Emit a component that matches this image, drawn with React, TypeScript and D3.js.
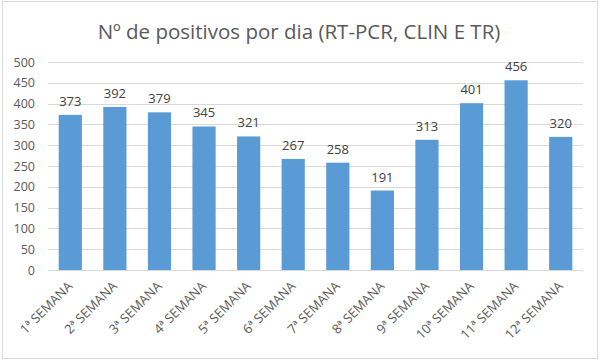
import React from "react";
import * as d3 from "d3";

const categories = ["1ª SEMANA","2ª SEMANA","3ª SEMANA","4ª SEMANA","5ª SEMANA","6ª SEMANA","7ª SEMANA","8ª SEMANA","9ª SEMANA","10ª SEMANA","11ª SEMANA","12ª SEMANA"];
const values = [373, 392, 379, 345, 321, 267, 258, 191, 313, 401, 456, 320];
const yTicks = [0, 50, 100, 150, 200, 250, 300, 350, 400, 450, 500];
const title = "Nº de positivos por dia (RT-PCR, CLIN E TR)";

const W = 600, H = 361;
const font = "'Open Sans', 'Liberation Sans', sans-serif";

export default function App() {
  const x = d3.scaleBand<string>().domain(categories).range([48, 583]).paddingInner(0.48).paddingOuter(0.24);
  const y = d3.scaleLinear().domain([0, 500]).range([270, 62]);
  return (
    <svg width={W} height={H} style={{ position: "absolute", left: 0, top: 0 }}>
      <rect x={0} y={0} width={W} height={H} fill="#fff" />
      <rect x={2.5} y={1.5} width={595} height={357} fill="none" stroke="#d9d9d9" strokeWidth={1} />
      <text x={299} y={39} textAnchor="middle" fontFamily={font} fontSize={20.5} fill="#595959">{title}</text>
      {yTicks.map(t => (
        <g key={t}>
          <line x1={48} x2={583} y1={Math.round(y(t)) + 0.5} y2={Math.round(y(t)) + 0.5} stroke="#d9d9d9" strokeWidth={1} />
          <text x={35} y={y(t) + 4.5} textAnchor="end" fontFamily={font} fontSize={12.5} fill="#595959">{t}</text>
        </g>
      ))}
      {categories.map((c, i) => {
        const bx = x(c)!;
        const cx = bx + x.bandwidth() / 2;
        return (
          <g key={c}>
            <rect x={bx} y={y(values[i])} width={x.bandwidth()} height={y(0) - y(values[i])} fill="#5b9bd5" />
            <text x={cx} y={y(values[i]) - 9} textAnchor="middle" fontFamily={font} fontSize={13} fill="#404040">{values[i]}</text>
            <text transform={`translate(${cx + 3},${287}) rotate(-45)`} textAnchor="end" fontFamily={font} fontSize={13} fill="#595959">{c}</text>
          </g>
        );
      })}
    </svg>
  );
}
